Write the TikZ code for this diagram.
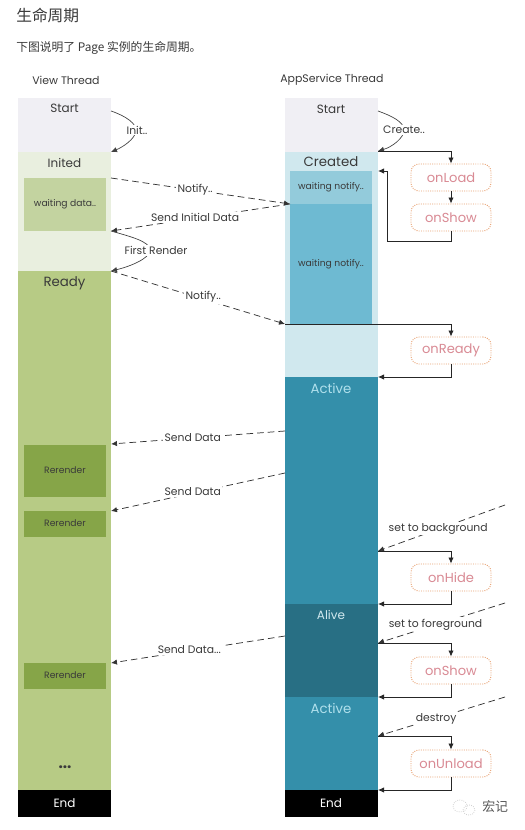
\documentclass[tikz,border=0pt]{standalone}
\usepackage{fontspec}
\setmainfont{Poppins}
\newfontfamily\cjk{Noto Sans CJK SC}
\usetikzlibrary{arrows.meta}
\definecolor{txt}{HTML}{3A3A3A}
\definecolor{cstart}{HTML}{F0EFF4}
\definecolor{cinited}{HTML}{E9EFDF}
\definecolor{cwait}{HTML}{C3D3A0}
\definecolor{cready}{HTML}{B7CB85}
\definecolor{crer}{HTML}{86A548}
\definecolor{ccreated}{HTML}{D0E8EE}
\definecolor{cw1}{HTML}{93CBDB}
\definecolor{cw2}{HTML}{6EBAD2}
\definecolor{cactive}{HTML}{348FAA}
\definecolor{calive}{HTML}{286F84}
\definecolor{cactxt}{HTML}{B0E0EC}
\definecolor{cedge}{HTML}{E8A070}
\definecolor{clife}{HTML}{D98A94}
\tikzset{
 x=0.75pt,y=-0.75pt,
 font=\fontsize{9pt}{11pt}\selectfont,
 big/.style={font=\fontsize{10pt}{11pt}\selectfont},
 inner/.style={inner sep=0pt,outer sep=0pt,align=center,text=txt,font=\fontsize{6.9pt}{8pt}\selectfont},
 life/.style={draw=cedge,densely dotted,line width=0.7pt,rounded corners=6pt,fill=white,minimum width=60pt,minimum height=20.25pt,inner sep=0pt,text=clife,font=\fontsize{9.8pt}{11pt}\selectfont},
 lab/.style={fill=white,inner sep=1pt,text=txt,font=\fontsize{8.1pt}{9pt}\selectfont},
 solid arrow/.style={-{Latex[length=4.5pt,width=4pt]},line width=0.6pt,black!85},
 dash arrow/.style={-{Latex[length=4.5pt,width=4pt]},line width=0.55pt,dash pattern=on 5pt off 3pt,black!80},
 curve arrow/.style={-{Latex[length=4.5pt,width=4pt]},line width=0.5pt,black!75},
 head/.style={text=txt,anchor=west,inner sep=0pt,font=\fontsize{8.2pt}{9pt}\selectfont},
}
\begin{document}
\begin{tikzpicture}
\useasboundingbox (0,0) rectangle (524,830);
\fill[white] (0,0) rectangle (524,830);
\node[anchor=west,inner sep=0pt,text=txt] (title) at (16,15) {\cjk\fontsize{11.8pt}{13pt}\selectfont 生命周期};
\node[anchor=west,inner sep=0pt,text=txt] (sub) at (16,48) {\cjk\fontsize{8.85pt}{10pt}\selectfont 下图说明了 Page 实例的生命周期。};
\node[head] (vt) at (32,80) {View Thread};
\node[head] (at) at (280,80) {AppService Thread};
% left column
\fill[cstart] (18,98) rectangle (111,152);
\fill[cinited] (18,152) rectangle (111,271);
\fill[cwait] (24,178) rectangle (106,231);
\fill[cready] (18,271) rectangle (111,790);
\fill[crer] (24,445) rectangle (106,497);
\fill[crer] (24,511) rectangle (106,537);
\fill[crer] (24,663) rectangle (106,689);
\fill[black] (18,790) rectangle (111,817);
\node[text=txt] (ls) at (64.5,108) {Start};
\node[text=txt] (li) at (64.5,163) {Inited};
\node[text=txt,big] (lr) at (64.5,283) {Ready};
\node[inner] (lw) at (65,204) {waiting data..};
\node[inner] (r1) at (65,470) {Rerender};
\node[inner] (r2) at (65,523.5) {Rerender};
\node[inner] (r3) at (65,675.5) {Rerender};
\node[text=txt,font=\bfseries\fontsize{11.5pt}{12pt}\selectfont] (dots) at (65,767) {...};
\node[text=white] (le) at (64.5,803) {End};
% right column
\fill[cstart] (285,98) rectangle (378,152);
\fill[ccreated] (285,152) rectangle (378,377);
\fill[cw1] (290,171) rectangle (372,204);
\fill[cw2] (290,204) rectangle (372,324);
\fill[cactive] (285,377) rectangle (378,604);
\fill[calive] (285,604) rectangle (378,697);
\fill[cactive] (285,697) rectangle (378,790);
\fill[black] (285,790) rectangle (378,817);
\node[text=txt] (rs) at (331,109) {Start};
\node[text=txt,big] (rc) at (331,162) {Created};
\node[inner] (w1) at (331,187.5) {waiting notify..};
\node[inner] (w2) at (331,264) {waiting notify..};
\node[text=cactxt,big] (ra1) at (331,388) {Active};
\node[text=ccreated] (ra2) at (331,615) {Alive};
\node[text=cactxt,big] (ra3) at (331,708) {Active};
\node[text=white] (re) at (331,803) {End};
% lifecycle boxes
\node[life] (onLoad) at (451,177.5) {onLoad};
\node[life] (onShow) at (451,217.5) {onShow};
\node[life] (onReady) at (451,350.5) {onReady};
\node[life] (onHide) at (451,577.5) {onHide};
\node[life] (onShowB) at (451,670.5) {onShow};
\node[life] (onUnload) at (451,763.5) {onUnload};
% anchor coordinates
\coordinate (a1) at (111,111); \coordinate (a2) at (111,152);
\coordinate (b1) at (378,111); \coordinate (b2) at (378,151);
\coordinate (n1a) at (111,178); \coordinate (n1b) at (290,204);
\coordinate (d1a) at (290,204); \coordinate (d1b) at (111,231);
\coordinate (f1) at (111,231); \coordinate (f2) at (111,271);
\coordinate (n2a) at (111,271); \coordinate (n2b) at (285,324);
\coordinate (sd1a) at (285,431); \coordinate (sd1b) at (111,444);
\coordinate (sd2a) at (285,473); \coordinate (sd2b) at (111,511);
\coordinate (sd3a) at (285,636); \coordinate (sd3b) at (111,663);
\coordinate (bg) at (505,505); \coordinate (bgE) at (378,551);
\coordinate (fg) at (505,603); \coordinate (fgE) at (378,643);
\coordinate (ds) at (505,697); \coordinate (dsE) at (378,736);
\coordinate (ret1) at (378,171);
\coordinate (x2) at (378,377);
\coordinate (x3) at (378,604);
\coordinate (x4) at (378,697);
\coordinate (x5) at (378,790);
% curved connectors
\draw[curve arrow] (a1) .. controls (126,116) and (137,124) .. (136,131) .. controls (135,139) and (123,147) .. (a2);
\node[lab] (init) at (137,130) {Init..};
\draw[curve arrow] (b1) .. controls (392,116) and (404,122) .. (404,130) .. controls (404,138) and (392,147) .. (b2);
\node[lab] (create) at (404,130) {Create..};
\draw[curve arrow] (f1) .. controls (128,236) and (150,241) .. (150,250) .. controls (150,259) and (128,267) .. (f2);
\node[lab] (first) at (156,250.5) {First Render};
% dashed connectors
\draw[dash arrow] (n1a) -- node[lab,pos=0.47] {Notify..} (n1b);
\draw[dash arrow] (d1a) -- node[lab,pos=0.53,yshift=0.5pt] {Send Initial Data} (d1b);
\draw[dash arrow] (n2a) -- node[lab,pos=0.53,yshift=1.5pt] {Notify..} (n2b);
\draw[dash arrow] (sd1a) -- node[lab,pos=0.53] {Send Data} (sd1b);
\draw[dash arrow] (sd2a) -- node[lab,pos=0.53,yshift=1pt] {Send Data} (sd2b);
\draw[dash arrow] (sd3a) -- node[lab,pos=0.55,yshift=1pt] {Send Data...} (sd3b);
\draw[dash arrow] (bg) -- node[lab,pos=0.5,xshift=-2.5pt,yshift=-0.5pt] {set to background} (bgE);
\draw[dash arrow] (fg) -- node[lab,pos=0.5,xshift=-4.5pt,yshift=-1pt] {set to foreground} (fgE);
\draw[dash arrow] (ds) -- node[lab,pos=0.5,xshift=-4pt,yshift=-1.5pt] {destroy} (dsE);
% solid connectors
\draw[solid arrow] (b2) -| (onLoad.north);
\draw[solid arrow] (onLoad) -- (onShow);
\draw[solid arrow] (onShow.south) |- (387,241) |- (ret1);
\draw[solid arrow] (n2b) -| (onReady.north);
\draw[solid arrow] (onReady.south) |- (x2);
\draw[solid arrow] (bgE) -| (onHide.north);
\draw[solid arrow] (onHide.south) |- (x3);
\draw[solid arrow] (fgE) -| (onShowB.north);
\draw[solid arrow] (onShowB.south) |- (x4);
\draw[solid arrow] (dsE) -| (onUnload.north);
\draw[solid arrow] (onUnload.south) |- (x5);
% watermark
\draw[black!18,densely dotted,line width=0.6pt] (460,806) ellipse (7 and 6);
\draw[black!18,densely dotted,line width=0.6pt] (469,810) ellipse (6 and 5);
\node[anchor=west,inner sep=0pt,text=black!65] (wm) at (482,807) {\cjk\fontsize{9.7pt}{10pt}\selectfont 宏记};
\end{tikzpicture}
\end{document}
